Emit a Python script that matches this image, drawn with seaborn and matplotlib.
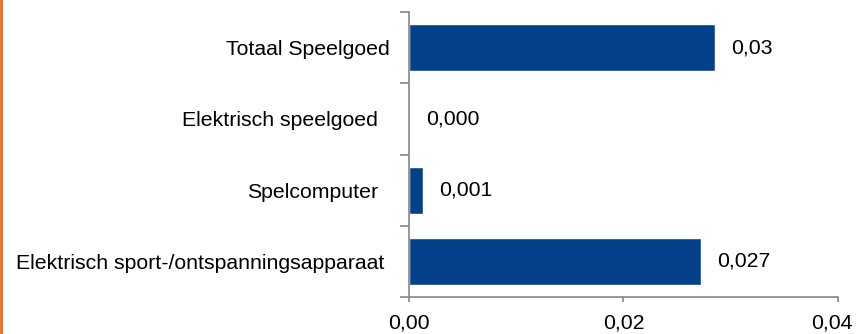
import matplotlib
matplotlib.use("Agg")
import matplotlib.pyplot as plt
import matplotlib.transforms as mtransforms
from matplotlib.lines import Line2D
import seaborn as sns
import pandas as pd

categories = ["Totaal Speelgoed", "Elektrisch speelgoed", "Spelcomputer",
              "Elektrisch sport-/ontspanningsapparaat"]
values = [0.0285, 0.0, 0.0013, 0.0272]
value_labels = ["0,03", "0,000", "0,001", "0,027"]
xticks = [0.00, 0.02, 0.04]
xtick_labels = ["0,00", "0,02", "0,04"]

sns.set_style("white")
plt.rcParams["font.family"] = ["Liberation Sans", "DejaVu Sans"]
plt.rcParams["text.color"] = "black"

df = pd.DataFrame({"cat": categories, "val": values})

fig = plt.figure(figsize=(8.65, 3.34), dpi=100)
ax = fig.add_axes([0.4728, 0.1108, 0.496, 0.853])

sns.barplot(data=df, x="val", y="cat", orient="h", color="#03428A",
            saturation=1, width=0.66, ax=ax)

ax.set_xlim(0, 0.04)
ax.set_ylim(3.5, -0.5)
ax.set_xticks(xticks)
ax.set_xticklabels(xtick_labels)
ax.set_xlabel("")
ax.set_ylabel("")

grey = "#868686"
fs = 15.3
for side in ["top", "right"]:
    ax.spines[side].set_visible(False)
for side in ["left", "bottom"]:
    ax.spines[side].set_color(grey)
    ax.spines[side].set_linewidth(1.2)

ax.tick_params(axis="x", which="major", length=3.6, width=1.2, color=grey,
               pad=8.5, labelsize=fs, labelcolor="black", bottom=True)
ax.tick_params(axis="y", which="major", length=0, pad=13.7, labelsize=fs,
               labelcolor="black")
ax.set_yticks([-0.5, 0.5, 1.5, 2.5, 3.5], minor=True)
ax.tick_params(axis="y", which="minor", length=6.5, width=1.2, color=grey,
               left=True)

# last x label sits against the right edge, like the original
xlabs = ax.get_xticklabels()
xlabs[-1].set_transform(xlabs[-1].get_transform() +
                        mtransforms.ScaledTranslation(-0.06, 0, fig.dpi_scale_trans))

# per-label horizontal offsets as in the original
extra = [0, -12, -12, -6]
for lab, dx in zip(ax.get_yticklabels(), extra):
    lab.set_transform(lab.get_transform() +
                      mtransforms.ScaledTranslation(dx / 100, 0, fig.dpi_scale_trans))

ax.bar_label(ax.containers[0], labels=value_labels, padding=12, fontsize=fs,
             color="black")

fig.add_artist(Line2D([0.0015, 0.0015], [0, 1], transform=fig.transFigure,
                      color="#E8681E", linewidth=2))

fig.savefig("out.png", dpi=100)
